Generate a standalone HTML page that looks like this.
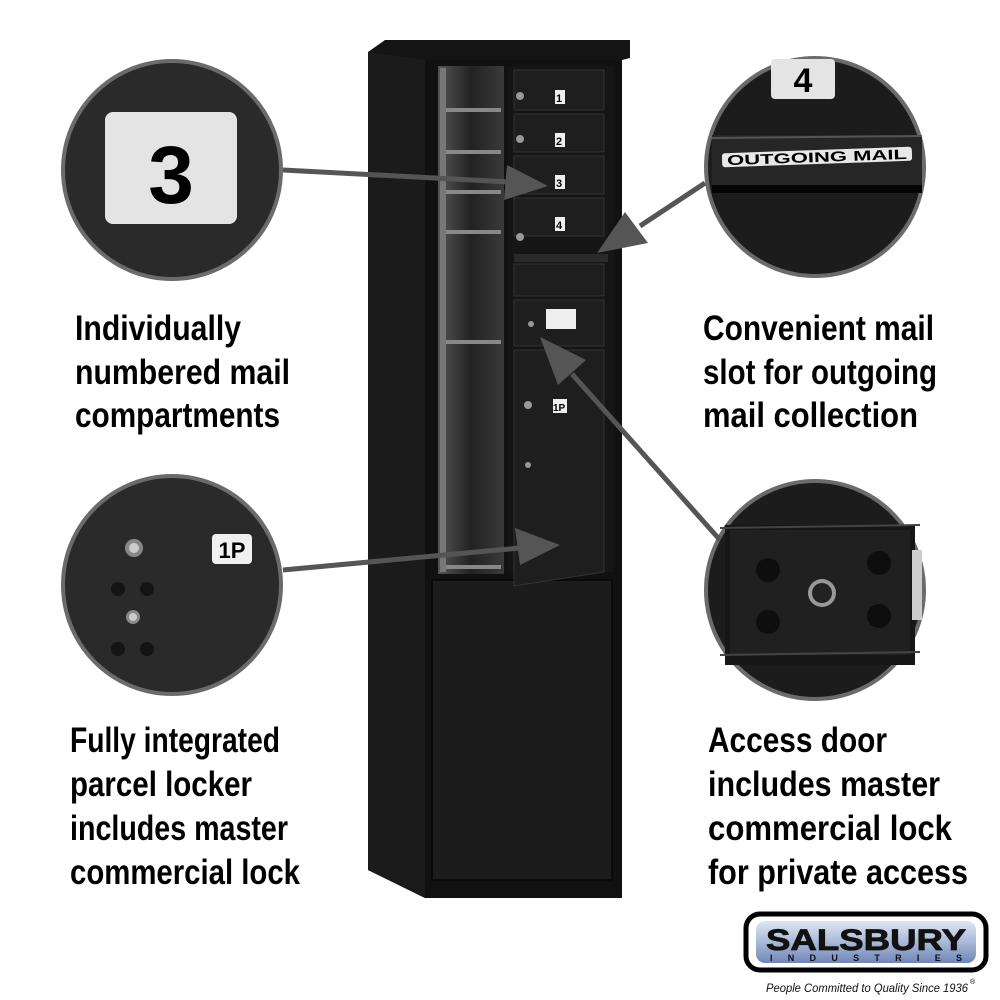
<!DOCTYPE html>
<html><head><meta charset="utf-8"><style>
html,body{margin:0;padding:0;background:#fff;}
svg{display:block;}
.t{font-family:"Liberation Sans",sans-serif;font-weight:bold;font-size:35px;fill:#000;}
</style></head><body>
<svg width="1000" height="1000" viewBox="0 0 1000 1000" xmlns="http://www.w3.org/2000/svg">
<defs>
<linearGradient id="lg" x1="0" y1="0" x2="0" y2="1"><stop offset="0" stop-color="#dfe6f2"/><stop offset="0.5" stop-color="#a9b9d8"/><stop offset="1" stop-color="#6f86b6"/></linearGradient>
<linearGradient id="cav" x1="0" y1="0" x2="1" y2="0"><stop offset="0" stop-color="#555"/><stop offset="0.5" stop-color="#222"/><stop offset="1" stop-color="#3a3a3a"/></linearGradient>
</defs>
<rect width="1000" height="1000" fill="#fff"/>
<!-- cabinet -->
<polygon points="368,52 385,40 630,40 630,58 622,60 622,880 612,898 425,898 368,870" fill="#141414"/>
<polygon points="368,52 425,60 425,898 368,870" fill="#1b1b1b"/>
<rect x="425" y="60" width="197" height="838" fill="#111"/>
<rect x="432" y="580" width="180" height="300" fill="#1c1c1c" stroke="#0a0a0a" stroke-width="2"/>
<rect x="438" y="66" width="66" height="508" fill="url(#cav)"/>
<rect x="440" y="68" width="6" height="504" fill="#777"/>
<g fill="#888"><rect x="446" y="108" width="55" height="4"/><rect x="446" y="150" width="55" height="4"/><rect x="446" y="190" width="55" height="4"/><rect x="446" y="230" width="55" height="4"/><rect x="446" y="340" width="55" height="4"/><rect x="446" y="565" width="55" height="4"/></g>
<rect x="508" y="66" width="106" height="506" fill="#151515"/>
<g fill="#1e1e1e" stroke="#333" stroke-width="1">
<rect x="514" y="70" width="90" height="40"/><rect x="514" y="114" width="90" height="38"/><rect x="514" y="156" width="90" height="38"/><rect x="514" y="198" width="90" height="38"/>
<rect x="514" y="264" width="90" height="32"/><rect x="514" y="300" width="90" height="46"/>
<polygon points="514,350 604,350 604,572 514,586"/>
</g>
<rect x="514" y="254" width="94" height="8" fill="#2a2a2a"/>
<g fill="#eee">
<rect x="555" y="90" width="10" height="14"/><rect x="555" y="133" width="10" height="14"/><rect x="555" y="175" width="10" height="14"/><rect x="555" y="217" width="10" height="14"/><rect x="546" y="309" width="30" height="20"/><rect x="553" y="399" width="14" height="14"/>
</g>
<g font-family="Liberation Sans,sans-serif" font-size="11" font-weight="bold" fill="#000">
<text x="556" y="102">1</text><text x="556" y="145">2</text><text x="556" y="187">3</text><text x="556" y="229">4</text><text x="553" y="411" font-size="10">1P</text>
</g>
<g fill="#999"><circle cx="520" cy="96" r="4"/><circle cx="520" cy="139" r="4"/><circle cx="520" cy="181" r="4"/><circle cx="520" cy="237" r="4"/><circle cx="531" cy="324" r="3"/><circle cx="528" cy="405" r="4"/><circle cx="528" cy="465" r="3"/></g>
<!-- circles -->
<g stroke="#6b6b6b" stroke-width="4">
<circle cx="172" cy="170" r="109" fill="#2a2a2a"/>
<circle cx="815" cy="167" r="109" fill="#1c1c1c"/>
<circle cx="172" cy="585" r="109" fill="#2a2a2a"/>
<circle cx="815" cy="590" r="109" fill="#1c1c1c"/>
</g>
<rect x="105" y="112" width="132" height="112" rx="8" fill="#e4e4e4"/>
<text x="171" y="203" text-anchor="middle" font-family="Liberation Sans,sans-serif" font-weight="bold" font-size="82">3</text>
<rect x="771" y="59" width="64" height="40" rx="4" fill="#e4e4e4"/>
<text x="803" y="92" text-anchor="middle" font-family="Liberation Sans,sans-serif" font-weight="bold" font-size="34">4</text>
<rect x="712" y="135" width="210" height="50" fill="#262626"/>
<line x1="712" y1="138" x2="922" y2="136" stroke="#555" stroke-width="2"/>
<rect x="722" y="150" width="190" height="14" rx="3" fill="#e8e8e8" transform="rotate(-2 817 157)"/>
<text x="817" y="162" text-anchor="middle" font-family="Liberation Sans,sans-serif" font-weight="bold" font-size="14" fill="#000" transform="rotate(-2 817 157)" textLength="180" lengthAdjust="spacingAndGlyphs">OUTGOING MAIL</text>
<rect x="712" y="185" width="210" height="8" fill="#050505"/>
<rect x="212" y="534" width="40" height="30" rx="4" fill="#f0f0f0"/>
<text x="232" y="558" text-anchor="middle" font-family="Liberation Sans,sans-serif" font-weight="bold" font-size="22">1P</text>
<circle cx="134" cy="548" r="9" fill="#888"/><circle cx="134" cy="548" r="5" fill="#ccc"/>
<circle cx="133" cy="617" r="7" fill="#888"/><circle cx="133" cy="617" r="4" fill="#ccc"/>
<g fill="#141414"><circle cx="118" cy="589" r="7"/><circle cx="147" cy="589" r="7"/><circle cx="118" cy="649" r="7"/><circle cx="147" cy="649" r="7"/></g>
<rect x="725" y="525" width="190" height="140" fill="#161616"/>
<rect x="730" y="530" width="180" height="125" fill="#202020"/>
<line x1="720" y1="528" x2="920" y2="525" stroke="#444" stroke-width="2"/>
<line x1="720" y1="655" x2="920" y2="652" stroke="#444" stroke-width="2"/>
<g fill="#0e0e0e"><circle cx="768" cy="570" r="12"/><circle cx="879" cy="563" r="12"/><circle cx="768" cy="622" r="12"/><circle cx="879" cy="616" r="12"/></g>
<circle cx="822" cy="593" r="14" fill="#999"/><circle cx="822" cy="593" r="10" fill="#222"/>
<rect x="912" y="550" width="10" height="70" fill="#ccc"/>
<!-- arrows -->
<g stroke="#555" stroke-width="5" fill="none">
<line x1="283" y1="170" x2="510" y2="182"/>
<line x1="705" y1="183" x2="640" y2="226"/>
<line x1="283" y1="570" x2="520" y2="548"/>
<line x1="720" y1="540" x2="572" y2="374"/>
</g>
<g fill="#555">
<polygon points="548,186 507,165 504,200"/>
<polygon points="597,253 625,212 648,243"/>
<polygon points="560,545 515,528 520,565"/>
<polygon points="540,337 558,385 586,360"/>
</g>
<!-- text -->
<g class="t" font-family="Liberation Sans,sans-serif" font-weight="bold" font-size="35">
<text class="t" x="75" y="340" textLength="166" lengthAdjust="spacingAndGlyphs">Individually</text>
<text class="t" x="75" y="384" textLength="215" lengthAdjust="spacingAndGlyphs">numbered mail</text>
<text class="t" x="75" y="427" textLength="205" lengthAdjust="spacingAndGlyphs">compartments</text>
<text class="t" x="703" y="340" textLength="231" lengthAdjust="spacingAndGlyphs">Convenient mail</text>
<text class="t" x="703" y="384" textLength="234" lengthAdjust="spacingAndGlyphs">slot for outgoing</text>
<text class="t" x="703" y="427" textLength="215" lengthAdjust="spacingAndGlyphs">mail collection</text>
<text class="t" x="70" y="752" textLength="210" lengthAdjust="spacingAndGlyphs">Fully integrated</text>
<text class="t" x="70" y="796" textLength="182" lengthAdjust="spacingAndGlyphs">parcel locker</text>
<text class="t" x="70" y="840" textLength="218" lengthAdjust="spacingAndGlyphs">includes master</text>
<text class="t" x="70" y="884" textLength="230" lengthAdjust="spacingAndGlyphs">commercial lock</text>
<text class="t" x="708" y="752" textLength="179" lengthAdjust="spacingAndGlyphs">Access door</text>
<text class="t" x="708" y="796" textLength="232" lengthAdjust="spacingAndGlyphs">includes master</text>
<text class="t" x="708" y="840" textLength="244" lengthAdjust="spacingAndGlyphs">commercial lock</text>
<text class="t" x="708" y="884" textLength="260" lengthAdjust="spacingAndGlyphs">for private access</text>
</g>
<!-- logo -->
<rect x="746" y="914" width="240" height="56" rx="14" fill="#fff" stroke="#000" stroke-width="5"/>
<rect x="756" y="921" width="220" height="42" rx="9" fill="url(#lg)"/>
<text x="766" y="950" font-family="Liberation Sans,sans-serif" font-weight="bold" font-size="30" fill="#111" stroke="#111" stroke-width="0.8" textLength="200" lengthAdjust="spacingAndGlyphs">SALSBURY</text>
<text x="770" y="961" font-family="Liberation Sans,sans-serif" font-weight="bold" font-size="9" fill="#111" textLength="192" lengthAdjust="spacing">INDUSTRIES</text>
<text x="766" y="992" font-family="Liberation Sans,sans-serif" font-style="italic" font-size="12" fill="#111" textLength="202" lengthAdjust="spacingAndGlyphs">People Committed to Quality Since 1936</text>
<text x="970" y="984" font-family="Liberation Sans,sans-serif" font-size="7">®</text>
</svg>
</body></html>
